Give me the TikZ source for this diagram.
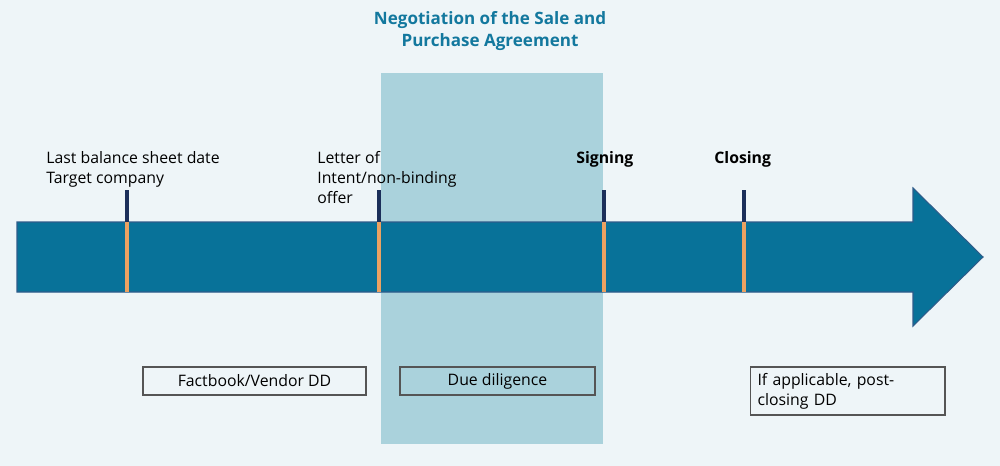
\documentclass[tikz,border=0pt]{standalone}
\usepackage{fontspec}
\setmainfont{Open Sans}
\definecolor{bgc}{HTML}{EEF5F8}
\definecolor{negshade}{HTML}{AAD2DC}
\definecolor{arrowc}{HTML}{087299}
\definecolor{arrowb}{HTML}{2E5C8A}
\definecolor{tickc}{HTML}{1B2F5A}
\definecolor{orangec}{HTML}{EBA262}
\definecolor{titlec}{HTML}{13789E}
\definecolor{boxb}{HTML}{555555}
\tikzset{
  lbl/.style={font=\fontsize{9}{11.3}\selectfont, align=left, inner sep=0pt, anchor=north west, text=black},
  blbl/.style={lbl, font=\fontsize{9}{11.3}\selectfont\bfseries},
  ddbox/.style={draw=boxb, line width=0.6pt, font=\fontsize{9}{11.3}\selectfont, inner sep=0pt},
  tickline/.style={draw=tickc, line width=1.8pt},
  oline/.style={draw=orangec, line width=2pt},
}
\begin{document}
\begin{tikzpicture}[x=0.02cm,y=-0.02cm]
\fill[bgc] (0,0) rectangle (1000,466);
\useasboundingbox (0,0) rectangle (1000,466);
% shaded negotiation region
\fill[negshade] (381,73) rectangle (603,444);
\node[font=\fontsize{9.7}{12}\selectfont\bfseries, text=titlec, align=center] (title) at (490,31) {Negotiation of the Sale and\\Purchase Agreement};
% arrow
\filldraw[fill=arrowc, draw=arrowb, line width=0.6pt] (17,222) -- (913,222) -- (913,188) -- (983,257) -- (913,326) -- (913,292) -- (17,292) -- cycle;
% milestones
\foreach \n/\x in {a/127,b/379,c/604,d/744}{
  \coordinate (\n top) at (\x,190);
  \coordinate (\n mid) at (\x,222);
  \coordinate (\n bot) at (\x,292);
  \draw[tickline] (\n top) -- (\n mid);
  \draw[oline] (\n mid) -- (\n bot);
}
\node[lbl] (lbs) at (46,151) {Last balance sheet date\\Target company};
\node[lbl] (loi) at (317,151) {Letter of\\Intent/non-binding\\offer};
\node[blbl] (sign) at (576,151) {Signing};
\node[blbl] (clos) at (714,151) {Closing};
% boxes
\node[ddbox, minimum width=4.46cm, minimum height=0.56cm] (fb) at (254.5,381) {Factbook/Vendor DD};
\node[ddbox, minimum width=3.9cm, minimum height=0.56cm] (dd) at (497.5,381) {Due diligence};
\node[ddbox, minimum width=3.9cm, minimum height=0.96cm, text width=3.6cm, align=left] (post) at (847.5,391) {If applicable, post-\\closing DD};
\end{tikzpicture}
\end{document}
